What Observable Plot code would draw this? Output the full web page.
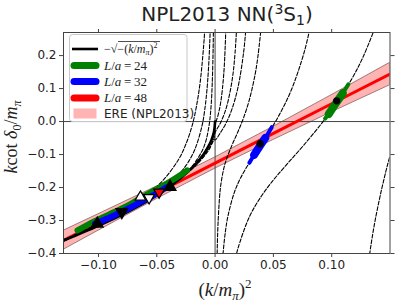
<!DOCTYPE html>
<html><head><meta charset="utf-8">
<script src="https://cdn.jsdelivr.net/npm/d3@7"></script>
<script src="https://cdn.jsdelivr.net/npm/@observablehq/plot@0.6"></script>
<style>body{margin:0;background:#fff;} #chart{width:407px;height:304px;}</style>
</head><body><div id="chart"></div>
<script>
// ---------- data ----------
const xTicks = [-0.10, -0.05, 0.00, 0.05, 0.10];
const yTicks = [-0.4, -0.3, -0.2, -0.1, 0.0, 0.1, 0.2];

// ERE band (NPL2013)
const ereX  = [-0.13, -0.10, -0.05, 0.00, 0.05, 0.10, 0.15];
const ereMid = [-0.360, -0.306, -0.216, -0.126, -0.036, 0.054, 0.144];
const ereLo = [-0.389, -0.331, -0.235, -0.143, -0.056, 0.028, 0.110];
const ereHi = [-0.331, -0.281, -0.197, -0.109, -0.016, 0.080, 0.178];

// -sqrt(-(k/m)^2)
const boundX = [-0.13, -0.12, -0.10, -0.08, -0.06, -0.05, -0.04, -0.03, -0.02, -0.015, -0.01, -0.006, -0.003, -0.001, 0];
const boundY = [-0.361, -0.346, -0.316, -0.283, -0.245, -0.224, -0.200, -0.173, -0.141, -0.122, -0.100, -0.077, -0.055, -0.032, 0];

// dashed quantisation curves
const dashNegA = [[-0.00714,0.401],[-0.00904,0.269],[-0.00972,0.234],[-0.0127,0.122],[-0.0161,0.044],[-0.0198,-0.014],[-0.0251,-0.069],[-0.031,-0.113],[-0.0446,-0.178],[-0.0608,-0.228],[-0.0793,-0.271],[-0.124,-0.349],[-0.134,-0.363]];
const dashNegB = [[-0.00277,0.505],[-0.00399,0.300],[-0.00543,0.175],[-0.00709,0.092],[-0.00897,0.033],[-0.01108,-0.011],[-0.01731,-0.084],[-0.0249,-0.133],[-0.0339,-0.170],[-0.0443,-0.203],[-0.0693,-0.261],[-0.0997,-0.315],[-0.134,-0.366]];
const dashNegC = [[-0.00124,0.338],[-0.0015,0.260],[-0.00179,0.201],[-0.00243,0.117],[-0.00317,0.061],[-0.00402,0.022],[-0.00496,-0.007],[-0.00775,-0.057],[-0.01116,-0.089],[-0.01983,-0.136],[-0.031,-0.174],[-0.06,-0.245],[-0.134,-0.366]];
const dashPosA = [[0.01566,-0.449],[0.01762,-0.414],[0.01958,-0.385],[0.02937,-0.289],[0.03916,-0.229],[0.0489,-0.182],[0.05873,-0.141],[0.07831,-0.062],[0.09789,0.025],[0.1175,0.131],[0.1273,0.199],[0.137,0.283]];
const dashPosB = [[0.00547,-0.470],[0.00656,-0.411],[0.00875,-0.336],[0.01094,-0.288],[0.0164,-0.216],[0.02187,-0.171],[0.03281,-0.105],[0.04374,-0.046],[0.05468,0.018],[0.06562,0.098],[0.07655,0.212],[0.0820,0.294]];
const dashPosB2 = [[0.1312,-0.437],[0.1334,-0.381],[0.1367,-0.310],[0.1422,-0.215],[0.1476,-0.135],[0.1498,-0.106]];
const dashPosC = [[0.00147,-0.468],[0.00176,-0.400],[0.00245,-0.315],[0.00392,-0.225],[0.0049,-0.192],[0.00734,-0.144],[0.00979,-0.114],[0.01469,-0.070],[0.01958,-0.031],[0.02448,0.012],[0.02937,0.066],[0.03427,0.142],[0.03671,0.197],[0.03916,0.274]];
// curves that run through x = 0 (moving frames)
const dashMov1 = [[-0.13,-0.361],[-0.05,-0.223],[-0.02,-0.140],[-0.01,-0.099],[-0.005,-0.070],[-0.002,-0.048],[-0.0005,-0.029],[0,-0.010],[0.00245,0.018],[0.0049,0.060],[0.00734,0.140],[0.00881,0.240],[0.00979,0.370]];
const dashMov2 = [[-0.13,-0.362],[-0.05,-0.225],[-0.0198,-0.142],[-0.0112,-0.110],[-0.005,-0.081],[-0.00124,-0.056],[0,-0.034],[0.0049,-0.002],[0.0098,0.044],[0.0147,0.128],[0.0171,0.207],[0.0196,0.361]];
const dashMov3 = [[-0.13,-0.362],[-0.05,-0.224],[-0.0198,-0.144],[-0.0112,-0.113],[-0.005,-0.084],[-0.00124,-0.055],[0,-0.056],[0.0049,-0.032],[0.0098,-0.002],[0.0147,0.040],[0.0196,0.103],[0.0245,0.211],[0.0269,0.303]];
const dashCurves = [dashNegA, dashNegB, dashNegC, dashPosA, dashPosB, dashPosB2, dashPosC, dashMov1, dashMov2, dashMov3];

// lattice data bands
const greenNeg = [[-0.118,-0.330],[-0.105,-0.305],[-0.09,-0.280],[-0.075,-0.255],[-0.062,-0.228],[-0.05,-0.205],[-0.04,-0.185],[-0.03,-0.163],[-0.024,-0.148]];
const blueNeg  = [[-0.103,-0.310],[-0.09,-0.290],[-0.075,-0.265],[-0.062,-0.240],[-0.05,-0.218],[-0.042,-0.200]];
const bluePos  = [[0.0294,-0.125],[0.0328,-0.105],[0.0386,-0.073],[0.0437,-0.046],[0.0486,-0.017]];
const bluePosCore = [[0.0335,-0.101],[0.0386,-0.073],[0.0430,-0.050]];
const greenPos = [[0.0943,0.009],[0.0979,0.025],[0.1043,0.059],[0.1100,0.089],[0.1143,0.113]];
const greenPosCore = [[0.0975,0.023],[0.1043,0.059],[0.1095,0.086]];

// central values (black dots) and triangle markers
const centralPts = [[0.0386,-0.067],[0.1043,0.063]];
const triUp   = [[-0.101,-0.310],[-0.0386,-0.198]];
const triDown = [[-0.080,-0.274]];
const triUpOpen = [[-0.064,-0.229]];
const triDownOpen = [[-0.0566,-0.231]];
const triDownRed = [[-0.048,-0.214]];

// legend
const legendLabels = ["24", "32", "48"];
const legendColors = ["#008000", "#0000ff", "#ff0000"];

// ---------- chart ----------
const fmt2 = v => (v < -1e-9 ? "\u2212" : "") + Math.abs(v).toFixed(2);
const fmt1 = v => (v < -1e-9 ? "\u2212" : "") + Math.abs(v).toFixed(1);
const pts = a => a.map(([x, y]) => ({x, y}));
const band = ereX.map((x, i) => ({x, lo: ereLo[i], hi: ereHi[i], mid: ereMid[i]}));
const bound = boundX.map((x, i) => ({x, y: boundY[i]}));
const dashStyle = {x: "x", y: "y", stroke: "#000", strokeWidth: 1.1, strokeDasharray: "3.8,1.8", curve: "catmull-rom", clip: true};

const plot = Plot.plot({
  width: 407, height: 304,
  marginLeft: 63, marginRight: 17.5, marginTop: 32, marginBottom: 51,
  x: {domain: [-0.13, 0.15]},
  y: {domain: [-0.4, 0.27]},
  style: {fontFamily: "DejaVu Sans, sans-serif", fontSize: "12px", color: "#222", background: "#fff"},
  marks: [
    Plot.areaY(band, {x: "x", y1: "lo", y2: "hi", fill: "#ffb3b3", stroke: "#7a5050", strokeWidth: 0.7, clip: true}),
    Plot.ruleY([0], {stroke: "#444", strokeWidth: 1}),
    Plot.ruleX([0], {stroke: "#444", strokeWidth: 1}),
    Plot.line(band, {x: "x", y: "mid", stroke: "#ff0000", strokeWidth: 3, clip: true}),
    ...dashCurves.map(c => Plot.line(pts(c), dashStyle)),
    Plot.line(bound, {x: "x", y: "y", stroke: "#000", strokeWidth: 2.6, curve: "catmull-rom", clip: true}),
    Plot.line(pts(greenNeg), {x: "x", y: "y", stroke: "#008000", strokeWidth: 6, strokeLinecap: "round", curve: "catmull-rom"}),
    Plot.line(pts(blueNeg), {x: "x", y: "y", stroke: "#0000ff", strokeWidth: 6, strokeLinecap: "round", curve: "catmull-rom"}),
    Plot.line(pts(bluePos), {x: "x", y: "y", stroke: "#0000ff", strokeWidth: 4, strokeLinecap: "round", curve: "catmull-rom"}),
    Plot.line(pts(bluePosCore), {x: "x", y: "y", stroke: "#0000ff", strokeWidth: 8, strokeLinecap: "round", curve: "catmull-rom"}),
    Plot.line(pts(greenPos), {x: "x", y: "y", stroke: "#008000", strokeWidth: 4, strokeLinecap: "round", curve: "catmull-rom"}),
    Plot.line(pts(greenPosCore), {x: "x", y: "y", stroke: "#008000", strokeWidth: 8, strokeLinecap: "round", curve: "catmull-rom"}),
    Plot.dot(pts(centralPts), {x: "x", y: "y", r: 3.6, fill: "#000"}),
    Plot.dot(pts(triUp), {x: "x", y: "y", symbol: "triangle", r: 4.2, fill: "#000", stroke: "#000"}),
    Plot.dot(pts(triDown), {x: "x", y: "y", symbol: "triangle", rotate: 180, r: 4.2, fill: "#000", stroke: "#000"}),
    Plot.dot(pts(triUpOpen), {x: "x", y: "y", symbol: "triangle", r: 4, fill: "#fff", stroke: "#000", strokeWidth: 1.2}),
    Plot.dot(pts(triDownOpen), {x: "x", y: "y", symbol: "triangle", rotate: 180, r: 4, fill: "#fff", stroke: "#000", strokeWidth: 1.2}),
    Plot.dot(pts(triDownRed), {x: "x", y: "y", symbol: "triangle", rotate: 180, r: 4, fill: "#ff0000", stroke: "#000", strokeWidth: 1.2}),
    Plot.frame({stroke: "#444", strokeWidth: 1}),
    Plot.axisX({ticks: xTicks, tickFormat: fmt2, tickSize: 4, tickPadding: 3, stroke: "#444", fontSize: 12, label: null}),
    Plot.axisX({anchor: "top", ticks: xTicks, tickFormat: () => "", tickSize: 4, stroke: "#444", label: null}),
    Plot.axisY({ticks: yTicks, tickFormat: fmt1, tickSize: 4, tickPadding: 3, stroke: "#444", fontSize: 12, label: null}),
    Plot.axisY({anchor: "right", ticks: yTicks, tickFormat: () => "", tickSize: 4, stroke: "#444", label: null})
  ]
});
document.getElementById("chart").appendChild(plot);

// ---------- titles, axis labels and legend ----------
const svg = d3.select(plot);
const serif = "Liberation Serif, DejaVu Serif, serif";
const t = svg.append("text").attr("x", 227).attr("y", 21).attr("text-anchor", "middle")
  .attr("font-family", "DejaVu Sans, sans-serif").attr("font-size", 20).attr("fill", "#222");
t.append("tspan").text("NPL2013 NN(");
t.append("tspan").attr("font-size", 14).attr("dy", -7).text("3");
t.append("tspan").attr("dy", 7).text("S");
t.append("tspan").attr("font-size", 14).attr("dy", 4).text("1");
t.append("tspan").attr("dy", -4).text(")");

const xl = svg.append("text").attr("x", 225).attr("y", 296).attr("text-anchor", "middle")
  .attr("font-family", serif).attr("font-size", 19).attr("fill", "#222");
xl.append("tspan").text("(");
xl.append("tspan").attr("font-style", "italic").text("k");
xl.append("tspan").text("/");
xl.append("tspan").attr("font-style", "italic").text("m");
xl.append("tspan").attr("font-style", "italic").attr("font-size", 13).attr("dy", 4).text("\u03c0");
xl.append("tspan").attr("dy", -4).text(")");
xl.append("tspan").attr("font-size", 13).attr("dy", -8).text("2");

const yl = svg.append("text").attr("transform", "translate(17,137) rotate(-90)").attr("text-anchor", "middle")
  .attr("font-family", serif).attr("font-size", 18).attr("fill", "#222");
yl.append("tspan").attr("font-style", "italic").text("k");
yl.append("tspan").text("cot ");
yl.append("tspan").attr("font-style", "italic").text("\u03b4");
yl.append("tspan").attr("font-size", 12).attr("dy", 4).text("0");
yl.append("tspan").attr("dy", -4).text("/");
yl.append("tspan").attr("font-style", "italic").text("m");
yl.append("tspan").attr("font-style", "italic").attr("font-size", 12).attr("dy", 4).text("\u03c0");

const lg = svg.append("g").attr("text-anchor", "start");
lg.append("rect").attr("x", 69.5).attr("y", 34.5).attr("width", 117.5).attr("height", 87).attr("rx", 3)
  .attr("fill", "#fff").attr("fill-opacity", 0.85).attr("stroke", "#c8c8c8");
const rowY = [49, 65.5, 81.5, 98, 113.5];
lg.append("line").attr("x1", 72).attr("x2", 98).attr("y1", rowY[0]).attr("y2", rowY[0]).attr("stroke", "#000").attr("stroke-width", 2.6);
const l0 = lg.append("text").attr("x", 104).attr("y", rowY[0] + 4).attr("text-anchor", "start")
  .attr("font-family", serif).attr("font-size", 12).attr("fill", "#222");
l0.append("tspan").text("\u2212\u221a");
l0.append("tspan").text("\u2212(");
l0.append("tspan").attr("font-style", "italic").text("k");
l0.append("tspan").text("/");
l0.append("tspan").attr("font-style", "italic").text("m");
l0.append("tspan").attr("font-style", "italic").attr("font-size", 8).attr("dy", 2).text("\u03c0");
l0.append("tspan").attr("dy", -2).text(")");
l0.append("tspan").attr("font-size", 8).attr("dy", -5).text("2");
lg.append("line").attr("x1", 118).attr("x2", 160).attr("y1", rowY[0] - 7.5).attr("y2", rowY[0] - 7.5).attr("stroke", "#222").attr("stroke-width", 0.8);
legendLabels.forEach((lab, i) => {
  const y = rowY[i + 1];
  lg.append("line").attr("x1", 74).attr("x2", 96).attr("y1", y).attr("y2", y)
    .attr("stroke", legendColors[i]).attr("stroke-width", 7).attr("stroke-linecap", "round");
  const tx = lg.append("text").attr("x", 104).attr("y", y + 4).attr("text-anchor", "start")
    .attr("font-family", serif).attr("font-size", 13).attr("fill", "#222");
  tx.append("tspan").attr("font-style", "italic").text("L");
  tx.append("tspan").text("/");
  tx.append("tspan").attr("font-style", "italic").text("a");
  tx.append("tspan").text("\u2009=\u2009" + lab);
});
lg.append("rect").attr("x", 74).attr("y", rowY[4] - 4.5).attr("width", 22).attr("height", 9).attr("fill", "#ffb3b3").attr("stroke", "#ffb3b3");
lg.append("text").attr("x", 104).attr("y", rowY[4] + 4.5).attr("text-anchor", "start")
  .attr("font-family", "DejaVu Sans, sans-serif").attr("font-size", 12).attr("fill", "#222").text("ERE (NPL2013)");
</script></body></html>
